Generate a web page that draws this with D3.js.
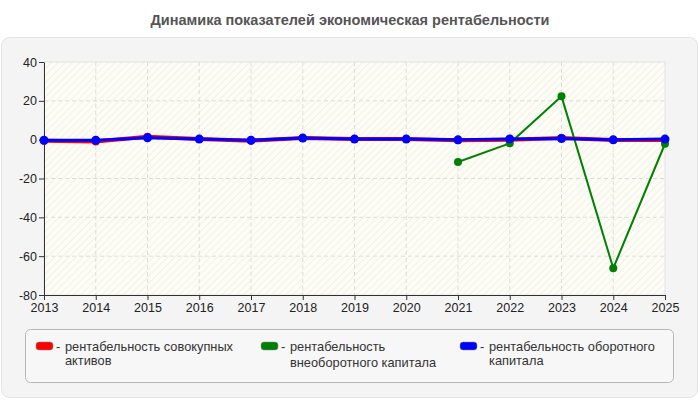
<!DOCTYPE html>
<html>
<head>
<meta charset="utf-8">
<script src="https://cdn.jsdelivr.net/npm/d3@7"></script>
<style>
  body { margin: 0; background: #fff; }
  svg { display: block; font-family: "Liberation Sans", Arial, sans-serif; }
</style>
</head>
<body>
<script>
(()=>{
    const width = 700;
    const height = 400;

    const years = [2013,2014,2015,2016,2017,2018,2019,2020,2021,2022,2023,2024,2025];
    const yTicks = [40,20,0,-20,-40,-60,-80];

    // рентабельность совокупных активов
    const redValues = [-0.5,-1,1.5,0.3,-0.5,0.8,0.3,0.3,-0.3,0,0.8,-0.2,-0.2];
    // рентабельность внеоборотного капитала (только с 2021)
    const greenYears = [2021,2022,2023,2024,2025];
    const greenValues = [-11.5,-1.9,22.3,-66.2,-2.1];
    // рентабельность оборотного капитала
    const blueValues = [-0.3,-0.3,1,0.3,-0.3,0.8,0.3,0.3,-0.1,0.4,0.6,-0.1,0.3];

    const legendLabels = [
        ["рентабельность совокупных","активов"],
        ["рентабельность","внеоборотного капитала"],
        ["рентабельность оборотного","капитала"]
    ];
    const legendColors = ["#ff0000","#008000","#0000ff"];

    const svg = d3.create("svg")
        .attr("width",width)
        .attr("height",height)
        .attr("viewBox",[0,0,width,height]);

    const defs = svg.append("defs");
    const pat = defs.append("pattern")
        .attr("id","hatch")
        .attr("patternUnits","userSpaceOnUse")
        .attr("width",5)
        .attr("height",5)
        .attr("patternTransform","rotate(45)");
    pat.append("rect").attr("width",5).attr("height",5).attr("fill","#fdfdf5");
    pat.append("line")
        .attr("x1",0).attr("y1",0).attr("x2",0).attr("y2",5)
        .attr("stroke","#eeeeea").attr("stroke-width",1.5);

    // title
    svg.append("text")
        .attr("x",350)
        .attr("y",25)
        .attr("text-anchor","middle")
        .attr("font-size","14.5px")
        .attr("font-weight","bold")
        .attr("fill","#555")
        .text("Динамика показателей экономическая рентабельности");

    // outer panel
    svg.append("rect")
        .attr("x",1.5).attr("y",37.5)
        .attr("width",696).attr("height",360)
        .attr("rx",8)
        .attr("fill","#f4f4f4")
        .attr("stroke","#e4e4e4");

    const left = 44, right = 665, top = 62, bottom = 295;

    const x = d3.scaleLinear().domain([2013,2025]).range([left,right]);
    const y = d3.scaleLinear().domain([-80,40]).range([bottom,top]);

    // plot background
    svg.append("rect")
        .attr("x",left).attr("y",top)
        .attr("width",right-left).attr("height",bottom-top)
        .attr("fill","url(#hatch)")
        .attr("stroke","#e2e2e2");

    // grid
    const grid = svg.append("g")
        .attr("stroke","#dcdcdc")
        .attr("stroke-dasharray","4,3");
    grid.selectAll("line.v")
        .data(years.slice(1,-1))
        .join("line")
        .attr("x1",d=>x(d)).attr("x2",d=>x(d))
        .attr("y1",top).attr("y2",bottom);
    grid.selectAll("line.h")
        .data(yTicks.slice(1,-1))
        .join("line")
        .attr("x1",left).attr("x2",right)
        .attr("y1",d=>y(d)).attr("y2",d=>y(d));

    // axes
    const yAxis = svg.append("g")
        .attr("transform",`translate(${left},0)`)
        .call(d3.axisLeft(y).tickValues(yTicks).tickFormat(d=>String(d)).tickSize(5).tickSizeOuter(0));
    const xAxis = svg.append("g")
        .attr("transform",`translate(0,${bottom})`)
        .call(d3.axisBottom(x).tickValues(years).tickFormat(d=>String(d)).tickSize(5).tickSizeOuter(0));
    [xAxis,yAxis].forEach(a=>{
        a.select(".domain").attr("stroke","#333");
        a.selectAll(".tick line").attr("stroke","#333");
        a.selectAll(".tick text")
            .attr("fill","#222")
            .attr("font-size","12.5px")
            .attr("font-family","'Liberation Sans', Arial, sans-serif");
    });
    yAxis.selectAll(".tick text").attr("x",-7);
    xAxis.selectAll(".tick text").attr("y",8);

    const line = d3.line().x(d=>x(d[0])).y(d=>y(d[1]));

    function drawSeries(xs, vals, color, w, r){
        const pts = xs.map((yr,i)=>[yr,vals[i]]);
        svg.append("path")
            .attr("d",line(pts))
            .attr("fill","none")
            .attr("stroke",color)
            .attr("stroke-width",w);
        svg.append("g").selectAll("circle")
            .data(pts)
            .join("circle")
            .attr("cx",d=>x(d[0]))
            .attr("cy",d=>y(d[1]))
            .attr("r",r)
            .attr("fill",color);
    }

    drawSeries(years, redValues, legendColors[0], 4, 4);
    drawSeries(greenYears, greenValues, legendColors[1], 2, 4);
    drawSeries(years, blueValues, legendColors[2], 3, 4.5);

    // legend
    svg.append("rect")
        .attr("x",25.5).attr("y",329.5)
        .attr("width",648).attr("height",53)
        .attr("rx",5)
        .attr("fill","#f7f7f7")
        .attr("stroke","#b8b8b8");

    const legendX = [36,261,460];
    const secondLineY = [364.5,366.5,364.5];
    legendLabels.forEach((lab,i)=>{
        const g = svg.append("g");
        g.append("rect")
            .attr("x",legendX[i]).attr("y",342)
            .attr("width",17).attr("height",8)
            .attr("rx",3)
            .attr("fill",legendColors[i])
            .attr("stroke","#888")
            .attr("stroke-width",0.5);
        const t = g.append("text")
            .attr("font-size","12.8px")
            .attr("fill","#333");
        t.append("tspan").attr("x",legendX[i]+20).attr("y",350.5).text("- ");
        t.append("tspan").attr("x",legendX[i]+29).attr("y",350.5).text(lab[0]);
        t.append("tspan").attr("x",legendX[i]+29).attr("y",secondLineY[i]).text(lab[1]);
    });

    d3.select("body").append(()=>svg.node());
})()
</script>
</body>
</html>
